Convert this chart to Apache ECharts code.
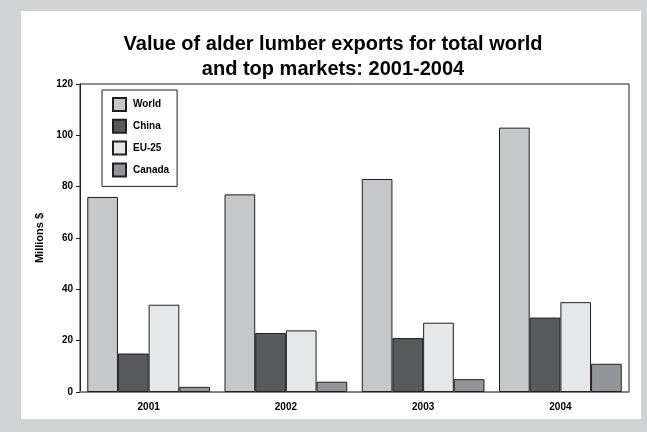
<!DOCTYPE html>
<html>
<head>
<meta charset="utf-8">
<script src="https://cdn.jsdelivr.net/npm/echarts@6/dist/echarts.min.js"></script>
<style>
  html, body { margin: 0; padding: 0; background: #d1d2d4; }
  #panel { position: absolute; left: 21px; top: 11px; width: 620px; height: 408px; background: #ffffff; }
  #chart { position: absolute; left: 0; top: 0; width: 647px; height: 432px; }
</style>
</head>
<body>
<div id="panel"></div>
<div id="chart"></div>
<script>
// Export values, millions of US dollars
const years = ['2001', '2002', '2003', '2004'];
const world = [76, 77, 83, 103];
const china = [15, 23, 21, 29];
const eu25 = [34, 24, 27, 35];
const canada = [2, 4, 5, 11];

const seriesNames = ['World', 'China', 'EU-25', 'Canada'];
const seriesColors = ['#c6c7c9', '#58595b', '#e6e7e8', '#939598'];
const seriesData = [world, china, eu25, canada];

const font = 'Arial, "Liberation Sans", sans-serif';

const chart = echarts.init(document.getElementById('chart'), null, { renderer: 'canvas' });

chart.setOption({
  backgroundColor: 'transparent',
  animation: false,
  title: {
    text: 'Value of alder lumber exports for total world\nand top markets: 2001-2004',
    left: 328,
    textAlign: 'center',
    top: 27,
    textStyle: {
      fontFamily: font,
      fontWeight: 'bold',
      fontSize: 20,
      lineHeight: 25,
      color: '#000'
    }
  },
  legend: {
    orient: 'vertical',
    left: 102,
    top: 90,
    padding: [7, 8, 9, 10],
    itemWidth: 13,
    itemHeight: 13,
    itemGap: 6.8,
    icon: 'rect',
    borderColor: '#231f20',
    borderWidth: 1,
    textStyle: { fontFamily: font, fontWeight: 'bold', fontSize: 10, color: '#000', padding: [0, 0, 0, 2] },
    data: seriesNames
  },
  grid: {
    left: 80,
    right: 18,
    top: 84,
    bottom: 40,
    show: true,
    borderColor: '#231f20',
    borderWidth: 1,
    containLabel: false
  },
  xAxis: {
    type: 'category',
    data: years,
    axisLine: { lineStyle: { color: '#808080', width: 1.5 } },
    axisTick: { show: false },
    axisLabel: { fontFamily: font, fontWeight: 'bold', fontSize: 10, color: '#000', margin: 10 }
  },
  yAxis: {
    type: 'value',
    min: 0,
    max: 120,
    interval: 20,
    name: 'Millions $',
    nameLocation: 'middle',
    nameGap: 33,
    nameTextStyle: { fontFamily: font, fontWeight: 'bold', fontSize: 11, color: '#000' },
    axisLine: { show: true, lineStyle: { color: '#231f20', width: 1 } },
    axisTick: { show: true, length: 4, lineStyle: { color: '#231f20' } },
    axisLabel: { fontFamily: font, fontWeight: 'bold', fontSize: 10, color: '#000', margin: 7 },
    splitLine: { show: false }
  },
  series: seriesNames.map((name, i) => ({
    name: name,
    type: 'bar',
    data: seriesData[i],
    barGap: '0%',
    barCategoryGap: '10.6%',
    itemStyle: {
      color: seriesColors[i],
      borderColor: '#231f20',
      borderWidth: 1
    }
  }))
});
</script>
</body>
</html>
